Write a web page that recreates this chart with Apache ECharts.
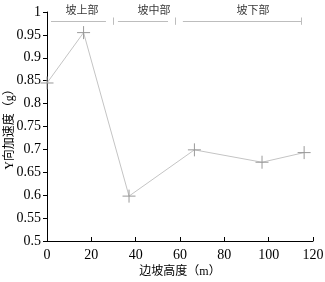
<!DOCTYPE html>
<html><head><meta charset="utf-8">
<script src="https://cdn.jsdelivr.net/npm/echarts@6/dist/echarts.min.js"></script>
<style>html,body{margin:0;padding:0;background:#fff}#c{width:325px;height:282px}</style>
</head><body><div id="c"></div>
<script>
var heights = [0, 16.5, 37, 66.5, 97, 116];
var accel = [0.845, 0.955, 0.598, 0.699, 0.672, 0.693];
var xTicks = [0, 20, 40, 60, 80, 100, 120];
var yTicks = [0.5, 0.55, 0.6, 0.65, 0.7, 0.75, 0.8, 0.85, 0.9, 0.95, 1];
var zoneNames = ['坡上部', '坡中部', '坡下部'];
var zoneStart = [1.8, 32, 61.3];
var zoneEnd = [26.6, 54.6, 114.6];
var zoneTick = [29.8, 57.7, 114.6];
var zoneLabelX = [15.8, 48.3, 92.9];
var zoneY = 0.98;

var serif = '"Liberation Serif","Noto Sans CJK SC",serif';
var lineData = [];
for (var i = 0; i < zoneNames.length; i++) {
  lineData.push([{coord: [zoneStart[i], zoneY]}, {coord: [zoneEnd[i], zoneY]}]);
  lineData.push([{coord: [zoneTick[i], zoneY + 0.008]}, {coord: [zoneTick[i], zoneY - 0.008]}]);
}
var labelData = zoneNames.map(function (n, i) { return {name: n, value: [zoneLabelX[i], zoneY]}; });

var chart = echarts.init(document.getElementById('c'));
chart.setOption({
  animation: false,
  grid: {left: 47, right: 12, top: 12, bottom: 41, containLabel: false, outerBoundsMode: 'none'},
  xAxis: {
    type: 'value', min: 0, max: 120, interval: 20,
    name: '边坡高度（m）', nameLocation: 'middle', nameGap: 25, nameMoveOverlap: false,
    nameTextStyle: {fontFamily: serif, fontSize: 12, color: '#000'},
    axisLine: {lineStyle: {color: '#000', width: 1}},
    axisTick: {inside: true, length: 4, lineStyle: {color: '#000'}},
    axisLabel: {fontFamily: serif, fontSize: 14, color: '#000', margin: 7},
    splitLine: {show: false}
  },
  yAxis: {
    type: 'value', min: 0.5, max: 1, interval: 0.05,
    name: 'Y向加速度（g）', nameLocation: 'middle', nameGap: 31, nameMoveOverlap: false,
    nameTextStyle: {fontFamily: serif, fontSize: 12, color: '#000'},
    axisLine: {show: true, lineStyle: {color: '#000', width: 1}},
    axisTick: {show: true, length: 4, lineStyle: {color: '#000'}},
    axisLabel: {fontFamily: serif, fontSize: 14, color: '#000', margin: 6,
      formatter: function (v) { return String(Math.round(v * 100) / 100); }},
    splitLine: {show: false}
  },
  series: [
    {
      type: 'line',
      data: heights.map(function (h, i) { return [h, accel[i]]; }),
      lineStyle: {color: '#c4c4c4', width: 1},
      symbol: 'path://M0,-6L0,6M-6,0L6,0',
      symbolSize: 13,
      itemStyle: {color: 'transparent', borderColor: '#999', borderWidth: 1},
      markLine: {
        silent: true, symbol: 'none',
        lineStyle: {color: '#bdbdbd', width: 1, type: 'solid'},
        label: {show: false},
        data: lineData
      }
    },
    {
      type: 'scatter',
      data: labelData,
      symbolSize: 0,
      clip: false,
      silent: true,
      label: {show: true, position: 'inside', offset: [0, -10],
        formatter: '{b}', fontFamily: serif, fontSize: 11, color: '#000'}
    }
  ]
});
</script></body></html>
